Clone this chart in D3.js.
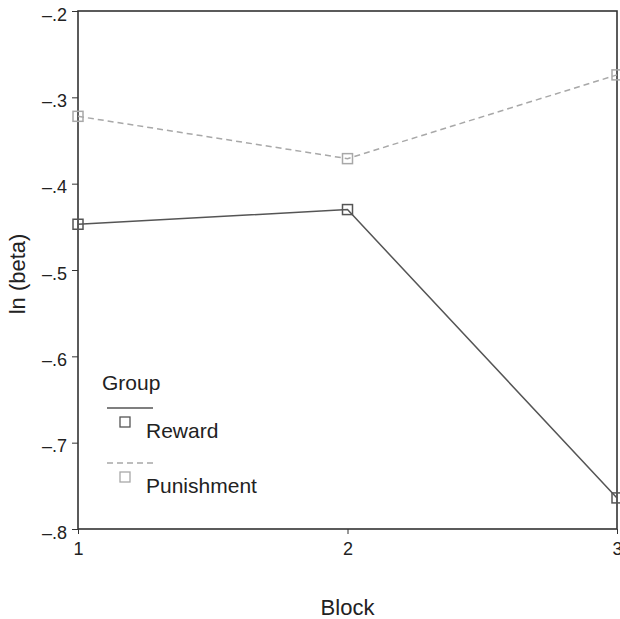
<!DOCTYPE html>
<html>
<head>
<meta charset="utf-8">
<script src="https://cdn.jsdelivr.net/npm/d3@7"></script>
<style>
  body { margin: 0; background: #fff; }
  text { font-family: "Liberation Sans", Arial, sans-serif; fill: #222; }
</style>
</head>
<body>
<div id="chart"></div>
<script>
// data
var blocks = [1, 2, 3];
var reward = [-0.447, -0.430, -0.764];
var punishment = [-0.322, -0.371, -0.274];
var yTicks = [-0.2, -0.3, -0.4, -0.5, -0.6, -0.7, -0.8];
var seriesNames = ["Reward", "Punishment"];

var width = 620, height = 619;
var margin = {top: 11, right: 3, bottom: 90, left: 78};

var svg = d3.select("#chart").append("svg")
    .attr("width", width)
    .attr("height", height);

var x = d3.scaleLinear().domain([1, 3]).range([margin.left, width - margin.right]);
var y = d3.scaleLinear().domain([-0.8, -0.2]).range([height - margin.bottom, margin.top]);

// stata style labels: –.2
var fmt = function(d) { return "\u2013." + Math.round(Math.abs(d) * 10); };

// y axis
var yAxis = svg.append("g")
    .attr("transform", "translate(" + margin.left + ",0)")
    .call(d3.axisLeft(y).tickValues(yTicks).tickSize(6).tickPadding(5).tickFormat(fmt));
yAxis.select(".domain").remove();
yAxis.selectAll("line").attr("stroke", "#333");
yAxis.selectAll("text").style("font-size", "18px").attr("fill", "#222").attr("dy", "0.5em");

// x axis
var xAxis = svg.append("g")
    .attr("transform", "translate(0," + y(-0.8) + ")")
    .call(d3.axisBottom(x).tickValues(blocks).tickSize(5).tickPadding(8).tickFormat(d3.format("d")));
xAxis.select(".domain").remove();
xAxis.selectAll("line").attr("stroke", "#333");
xAxis.selectAll("text").style("font-size", "18px").attr("fill", "#222");

// frame
svg.append("rect")
    .attr("x", x(1))
    .attr("y", y(-0.2))
    .attr("width", x(3) - x(1))
    .attr("height", y(-0.8) - y(-0.2))
    .attr("fill", "none")
    .attr("stroke", "#333")
    .attr("stroke-width", 1.6);

var series = [
    {name: seriesNames[0], values: reward, color: "#555", dash: null},
    {name: seriesNames[1], values: punishment, color: "#a8a8a8", dash: "6,4"}
];

var line = d3.line()
    .x(function(d, i) { return x(blocks[i]); })
    .y(function(d) { return y(d); });

series.forEach(function(s) {
    svg.append("path")
        .datum(s.values)
        .attr("d", line)
        .attr("fill", "none")
        .attr("stroke", s.color)
        .attr("stroke-width", 1.5)
        .attr("stroke-dasharray", s.dash);
    svg.selectAll(null)
        .data(s.values)
        .enter().append("rect")
        .attr("x", function(d, i) { return x(blocks[i]) - 5; })
        .attr("y", function(d) { return y(d) - 5; })
        .attr("width", 10)
        .attr("height", 10)
        .attr("fill", "none")
        .attr("stroke", s.color)
        .attr("stroke-width", 1.5);
});

// legend
var legend = svg.append("g");
legend.append("text")
    .attr("x", 102).attr("y", 390)
    .style("font-size", "21px")
    .text("Group");
series.forEach(function(s, i) {
    var base = 408 + i * 55;
    legend.append("line")
        .attr("x1", 107).attr("x2", 153)
        .attr("y1", base).attr("y2", base)
        .attr("stroke", s.color)
        .attr("stroke-width", 1.5)
        .attr("stroke-dasharray", s.dash ? "6,4" : null);
    legend.append("rect")
        .attr("x", 120).attr("y", base + 9)
        .attr("width", 10).attr("height", 10)
        .attr("fill", "none")
        .attr("stroke", s.color)
        .attr("stroke-width", 1.3);
    legend.append("text")
        .attr("x", 146).attr("y", base + 30)
        .style("font-size", "21px")
        .text(s.name);
});

// axis titles
svg.append("text")
    .attr("transform", "translate(25," + ((y(-0.2) + y(-0.8)) / 2 + 4) + ") rotate(-90)")
    .attr("text-anchor", "middle")
    .style("font-size", "22px")
    .text("ln (beta)");

svg.append("text")
    .attr("x", (x(1) + x(3)) / 2)
    .attr("y", 615)
    .attr("text-anchor", "middle")
    .style("font-size", "22px")
    .text("Block");
</script>
</body>
</html>
